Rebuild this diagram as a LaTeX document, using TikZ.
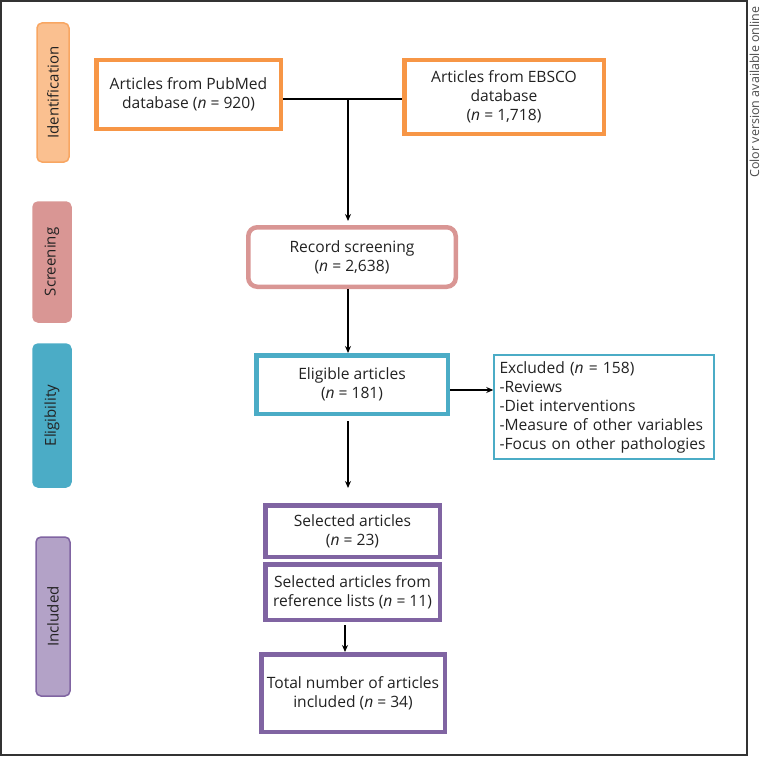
\documentclass[tikz,border=0pt]{standalone}
\usepackage{fontspec}
\setmainfont{Open Sans}
\usetikzlibrary{arrows.meta}
\definecolor{orng}{HTML}{F79646}
\definecolor{orngfill}{HTML}{FAC090}
\definecolor{pinkb}{HTML}{D99694}
\definecolor{tealb}{HTML}{4BACC6}
\definecolor{purpb}{HTML}{8064A2}
\definecolor{purpfill}{HTML}{B3A2C7}
\definecolor{txt}{HTML}{222222}
\tikzset{
  x=1pt,y=1pt,
  box/.style={draw, line width=4.5pt, fill=white, align=center, inner sep=2pt, text=txt, font=\fontsize{15.6}{19}\selectfont},
  tab/.style={rounded corners=5pt, line width=1.5pt, text=txt, font=\fontsize{15}{18}\selectfont},
  conn/.style={line width=2pt, black},
  arr/.style={conn, -{Stealth[length=7pt,width=6pt]}},
}
\begin{document}
\begin{tikzpicture}
\useasboundingbox (0,0) rectangle (762,-757);
\draw[line width=1.5pt, black!80] (1,-1) rectangle (747,-755);
\node[rotate=90, text=black!70, inner sep=0pt, font=\fontsize{12.5}{14}\selectfont] (cv) at (754.5,-92) {Color version available online};

% tabs
\node[tab, draw=orng!85, fill=orngfill, minimum width=139pt, minimum height=32pt, rotate=90] (t1) at (53,-92.5) {Identification};
\node[tab, draw=pinkb, fill=pinkb, minimum width=120pt, minimum height=38pt, rotate=90] (t2) at (52,-262) {Screening};
\node[tab, draw=tealb, fill=tealb, minimum width=143pt, minimum height=38pt, rotate=90] (t3) at (52,-415.5) {Eligibility};
\node[tab, draw=purpb, fill=purpfill, minimum width=159pt, minimum height=34pt, rotate=90] (t4) at (53,-616.5) {Included};

% boxes
\node[box, draw=orng, minimum width=184.5pt, minimum height=68.5pt] (pub) at (188.5,-94.5) {Articles from PubMed\\database (\textit{n} = 920)};
\node[box, draw=orng, minimum width=199.5pt, minimum height=73.5pt] (ebs) at (504,-97) {Articles from EBSCO\\database\\(\textit{n} = 1,718)};
\node[box, draw=pinkb, rounded corners=9pt, minimum width=207.5pt, minimum height=59.5pt] (rec) at (352,-257) {Record screening\\(\textit{n} = 2,638)};
\node[box, draw=tealb, minimum width=191.5pt, minimum height=58.5pt] (elig) at (352,-384.5) {Eligible articles\\(\textit{n} = 181)};
\node[box, draw=tealb, line width=1.5pt, align=left, minimum width=220pt, minimum height=104pt, text width=209pt, inner sep=0pt] (exc) at (604,-407) {Excluded (\textit{n} = 158)\\-Reviews\\-Diet interventions\\-Measure of other variables\\-Focus on other pathologies};
\node[box, draw=purpb, minimum width=174.5pt, minimum height=51.5pt] (sel) at (352.5,-531) {Selected articles\\(\textit{n} = 23)};
\node[box, draw=purpb, minimum width=174.5pt, minimum height=55.5pt] (ref) at (352.5,-592) {Selected articles from\\reference lists (\textit{n} = 11)};
\node[box, draw=purpb, minimum width=183.5pt, minimum height=77.5pt] (tot) at (353,-693) {Total number of articles\\included (\textit{n} = 34)};

% connectors
\coordinate (j) at (348,-99);
\coordinate (ea) at (470,-390);
\coordinate (rt) at (345,-600);
\draw[conn] (pub.east |- j) -- (ebs.west |- j);
\draw[arr, shorten >=4pt] (j) -- (j |- rec.north);
\draw[arr] (rec.south -| j) -- (elig.north -| j);
\draw[arr] (elig.east |- ea) -- (exc.west |- ea);
\draw[arr, shorten <=5pt, shorten >=15pt] (elig.south -| j) -- (sel.north -| j);
\draw[arr, shorten <=3pt] (ref.south -| rt) -- (tot.north -| rt);
\end{tikzpicture}
\end{document}
